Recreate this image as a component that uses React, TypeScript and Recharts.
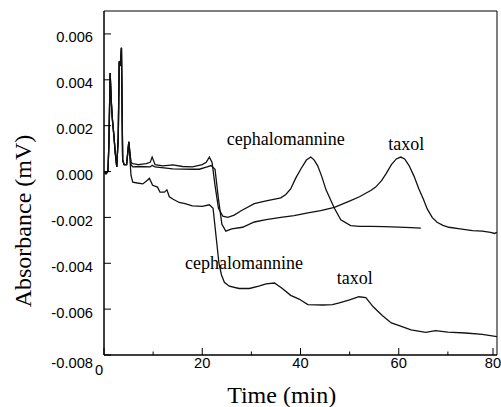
import React from "react";
import { LineChart, Line, XAxis, YAxis, ReferenceArea } from "recharts";

// shared injection peaks at the start of every run
const startTime = [0, 0.4, 0.8, 1.0, 1.25, 1.5, 1.7, 2.0, 2.3, 2.6, 2.9, 3.1, 3.3, 3.55, 3.8, 4.1, 4.6, 5.05];
const startValue = [0, -0.0001, 0.0, 0.0012, 0.0043, 0.003, 0.0023, 0.0016, 0.0008, 0.0002, 0.0015, 0.0048, 0.0046, 0.0054, 0.0005, 0.0003, 0.0003, 0.0013];

// upper run, cephalomannine peak
const cephTime = [5.5, 5.85, 7, 8.6, 9.4, 9.8, 10.4, 12, 14, 16, 18, 20, 20.8, 21.45, 22.0, 22.6, 23.3, 24.2, 25.2, 26.5, 28, 30.6, 33, 36, 37, 38, 39, 40.1, 41.2, 42.1, 42.8, 43.5, 44.3, 45.2, 46.9, 48.2, 50.2, 52, 54.3, 57, 60, 62.5, 64.5];
const cephValue = [0.0004, 0.00034, 0.0003, 0.00034, 0.0004, 0.00063, 0.0003, 0.00025, 0.00029, 0.00022, 0.0002, 0.0003, 0.0004, 0.00063, 0.0004, -0.0006, -0.0016, -0.00195, -0.002, -0.0019, -0.0017, -0.0014, -0.00128, -0.00115, -0.001, -0.00076, -0.0003, 0.00012, 0.0005, 0.00063, 0.0005, 0.00025, -0.0002, -0.0008, -0.0016, -0.0021, -0.00236, -0.00239, -0.00239, -0.0024, -0.00242, -0.00245, -0.00247];

// upper run, taxol peak
const taxolTime = [5.5, 5.85, 7, 9.4, 9.8, 10.4, 14, 18, 19.4, 21, 21.8, 22.6, 23.3, 24.0, 24.8, 26, 28.2, 30.6, 33, 36, 38.7, 41.5, 44.1, 46.9, 50.2, 52, 54.3, 55.3, 56.5, 57.4, 58.5, 59.5, 60.4, 61.2, 62.1, 63.1, 64.1, 65, 65.8, 66.8, 67.8, 69, 70.2, 72.5, 75, 77, 78.7, 79.5, 80];
const taxolValue = [0.0003, 0.0002, 0.00022, 0.0002, 0.00027, 0.0002, 0.00012, 0.0001, 0.0001, 0.0002, 0.00026, 0.0001, -0.0012, -0.0023, -0.0026, -0.0025, -0.00243, -0.0022, -0.0021, -0.002, -0.00192, -0.0018, -0.0017, -0.00156, -0.00127, -0.0011, -0.00083, -0.00068, -0.0004, -0.0001, 0.0003, 0.00055, 0.00063, 0.00055, 0.00026, -0.0002, -0.00076, -0.0012, -0.00163, -0.002, -0.00221, -0.00235, -0.00243, -0.0025, -0.00258, -0.0026, -0.00265, -0.0027, -0.00265];

// lower run
const lowTime = [5.5, 5.85, 6.8, 7.9, 8.7, 9.25, 9.9, 10.9, 11.4, 12.3, 12.8, 13.3, 14, 15.3, 16.5, 18, 20, 21.45, 22.2, 22.8, 23.4, 23.9, 24.5, 25.5, 27.5, 29.6, 31.5, 33, 34.7, 36.3, 38, 39.7, 41.5, 44.5, 46.5, 47.9, 50, 51.9, 53.3, 54.8, 56.7, 58.5, 60.1, 62.5, 65.5, 67.5, 70, 73.6, 77, 80];
const lowValue = [-0.00017, -0.00046, -0.0005, -0.00054, -0.0004, -0.0003, -0.0006, -0.00068, -0.0009, -0.0009, -0.0008, -0.0011, -0.0012, -0.00135, -0.0014, -0.0015, -0.00152, -0.00145, -0.0016, -0.0028, -0.004, -0.0045, -0.00483, -0.005, -0.0051, -0.0051, -0.005, -0.0049, -0.00486, -0.0051, -0.0054, -0.00556, -0.0058, -0.00582, -0.0058, -0.00573, -0.0056, -0.00546, -0.0055, -0.0059, -0.00629, -0.0066, -0.00672, -0.0069, -0.00701, -0.00694, -0.007, -0.00704, -0.0071, -0.0072];

const xTicks = [0, 10, 20, 30, 40, 50, 60, 70, 80];
const yTicks = [-0.008, -0.007, -0.006, -0.005, -0.004, -0.003, -0.002, -0.001, 0, 0.001, 0.002, 0.003, 0.004, 0.005, 0.006];

const toRows = (t: number[], v: number[]) => t.map((x, i) => ({ t: x, v: v[i] }));
const cephData = toRows([...startTime, ...cephTime], [...startValue, ...cephValue]);
const taxolData = toRows([...startTime, ...taxolTime], [...startValue, ...taxolValue]);
const lowData = toRows([...startTime, ...lowTime], [...startValue, ...lowValue]);

const tickFont = "'Liberation Sans', Arial, sans-serif";
const serif = "'Liberation Serif', 'Times New Roman', serif";

const XTick = (props: any) => {
  const { x, y, payload } = props;
  const v = payload.value;
  const major = v % 20 === 0;
  const isZero = v === 0;
  return (
    <g>
      <line x1={x} x2={x} y1={y} y2={y - (major ? 7 : 3.5)} stroke="#000" />
      {major && (
        <text x={x + (isZero ? -5 : 0)} y={y + (isZero ? 20 : 13)} textAnchor="middle" fontSize={14.7} fontFamily={tickFont} fill="#000">
          {v}
        </text>
      )}
    </g>
  );
};

const YTick = (props: any) => {
  const { x, y, payload } = props;
  const v = payload.value;
  const major = Math.round(v * 1000) % 2 === 0;
  const isBottom = Math.abs(v + 0.008) < 1e-9;
  return (
    <g>
      <line x1={x} x2={x + (major ? 7 : 3.5)} y1={y} y2={y} stroke="#000" />
      {major && (
        <text x={x - 11} y={y + (isBottom ? 13 : 8.5)} textAnchor="end" fontSize={14.7} fontFamily={tickFont} fill="#000">
          {v.toFixed(3)}
        </text>
      )}
    </g>
  );
};

export default function App() {
  return (
    <div style={{ position: "absolute", left: 0, top: 0, width: 501, height: 407, background: "#fff" }}>
      <LineChart width={501} height={407} margin={{ top: 11, right: 4, bottom: 0, left: 0 }}>
        <XAxis
          type="number"
          dataKey="t"
          domain={[0, 80]}
          ticks={xTicks}
          height={52}
          tickSize={0}
          tickMargin={0}
          tickLine={false}
          tick={<XTick />}
          axisLine={{ stroke: "#000" }}
          allowDataOverflow
        />
        <YAxis
          type="number"
          domain={[-0.008, 0.007]}
          ticks={yTicks}
          width={104}
          tickSize={0}
          tickMargin={0}
          tickLine={false}
          tick={<YTick />}
          axisLine={{ stroke: "#000" }}
          allowDataOverflow
        />
        <ReferenceArea x1={0} x2={80} y1={-0.008} y2={0.007} fill="none" stroke="#000" strokeWidth={1} />
        <Line data={cephData} dataKey="v" type="linear" stroke="#111" strokeWidth={1.3} dot={false} isAnimationActive={false} />
        <Line data={taxolData} dataKey="v" type="linear" stroke="#111" strokeWidth={1.3} dot={false} isAnimationActive={false} />
        <Line data={lowData} dataKey="v" type="linear" stroke="#111" strokeWidth={1.3} dot={false} isAnimationActive={false} />
      </LineChart>
      <svg width={501} height={407} style={{ position: "absolute", left: 0, top: 0, pointerEvents: "none" }}>
        <text x={226.7} y={145} fontSize={18} fontFamily={serif} fill="#000">cephalomannine</text>
        <text x={388.3} y={150} fontSize={18} fontFamily={serif} fill="#000">taxol</text>
        <text x={185} y={268.5} fontSize={18} fontFamily={serif} fill="#000">cephalomannine</text>
        <text x={336.7} y={284} fontSize={18} fontFamily={serif} fill="#000">taxol</text>
        <text x={281.7} y={403} textAnchor="middle" fontSize={24} fontFamily={serif} fill="#000">Time (min)</text>
        <text transform="translate(31,221) rotate(-90)" textAnchor="middle" fontSize={24} fontFamily={serif} fill="#000">Absorbance (mV)</text>
      </svg>
    </div>
  );
}
